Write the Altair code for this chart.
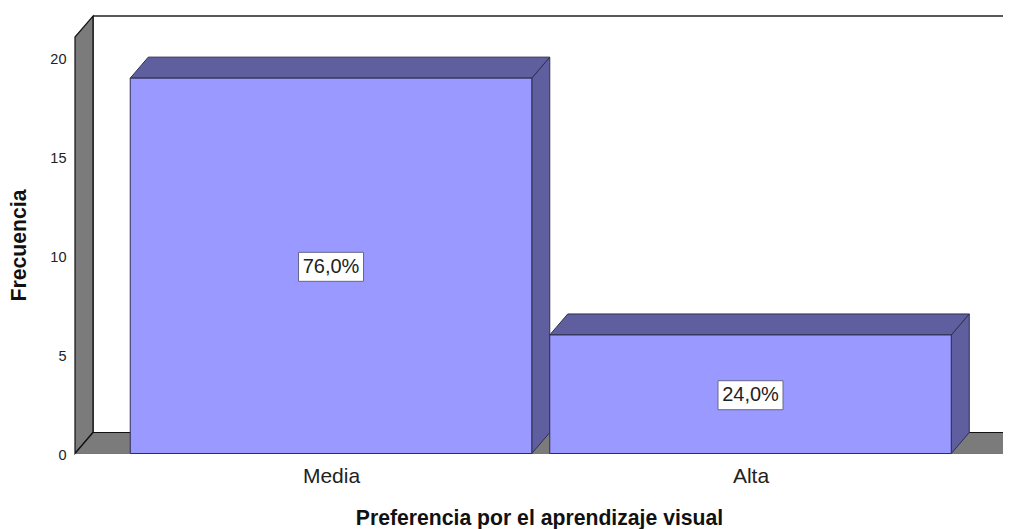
import altair as alt
import pandas as pd

categories = ["Media", "Alta"]
frequencies = [19, 6]
percent_labels = ["76,0%", "24,0%"]
y_ticks = [0, 5, 10, 15, 20]

# Scale set-up, in data units (category index / frequency)
X_MIN, X_MAX = -0.6103, 1.6019
Y_MAX = 22.55
DX, DY = 0.0429, 1.063      # depth of the 3-D projection
HALF = 0.4786               # half of a bar's width
WALL_TOP = 21.08
FLOOR_L, FLOOR_R = -0.6103, 1.6103

FILL = "#9999ff"
SHADE = "#5f5f9f"
GRAY = "#7b7b7b"
EDGE = "#2e2e50"
FONT = "Liberation Sans"

xs = alt.Scale(domain=[X_MIN, X_MAX], nice=False, zero=False, padding=0)
ys = alt.Scale(domain=[0, Y_MAX], nice=False, zero=False, padding=0)

label_expr = "[" + ",".join(f"'{c}'" for c in categories) + "][datum.value]"
x_axis = alt.Axis(values=[0, 1], labelExpr=label_expr, domain=False, ticks=False, grid=False,
                  labelFont=FONT, labelFontSize=21, labelColor="#222222", labelPadding=12,
                  title="Preferencia por el aprendizaje visual",
                  titleFont=FONT, titleFontSize=21.2, titleFontWeight="bold", titleColor="#111111",
                  titlePadding=21)
y_axis = alt.Axis(values=y_ticks, domain=False, ticks=False, grid=False,
                  labelFont=FONT, labelFontSize=14.5, labelColor="#222222", labelPadding=9,
                  labelOffset=1.5,
                  title="Frecuencia", titleY=237,
                  titleFont=FONT, titleFontSize=21.2, titleFontWeight="bold", titleColor="#111111",
                  titlePadding=20)
X = lambda f: alt.X(f, type="quantitative", scale=xs, axis=x_axis)
Y = lambda f: alt.Y(f, type="quantitative", scale=ys, axis=y_axis)

left_wall = pd.DataFrame({"x": [FLOOR_L, FLOOR_L + DX], "y": [0, DY],
                          "y2": [WALL_TOP, WALL_TOP + DY]})
floor = pd.DataFrame({"y": [0, DY], "x": [FLOOR_L, FLOOR_L + DX],
                      "x2": [FLOOR_R, FLOOR_R + DX]})
back_top = pd.DataFrame({"x": [FLOOR_L + DX], "x2": [X_MAX], "y": [WALL_TOP + DY]})
back_left = pd.DataFrame({"x": [FLOOR_L + DX], "y": [DY], "y2": [WALL_TOP + DY]})

fronts, tops, sides = [], [], []
for i, (c, v, p) in enumerate(zip(categories, frequencies, percent_labels)):
    l, r = i - HALF, i + HALF
    fronts.append({"c": c, "x": l, "x2": r, "y": 0, "y2": v, "i": i, "m": v / 2, "p": p})
    tops += [{"c": c, "y": v, "x": l, "x2": r},
             {"c": c, "y": v + DY, "x": l + DX, "x2": r + DX}]
    sides += [{"c": c, "x": r, "y": 0, "y2": v},
              {"c": c, "x": r + DX, "y": DY, "y2": v + DY}]
fronts, tops, sides = map(pd.DataFrame, (fronts, tops, sides))

line_top = alt.Chart(back_top).mark_rule(color="#222222", strokeWidth=1.5, clip=True).encode(
    x=X("x"), x2="x2", y=Y("y"))
line_left = alt.Chart(back_left).mark_rule(color="#222222", strokeWidth=1.5).encode(
    x=X("x"), y=Y("y"), y2="y2")
wall = alt.Chart(left_wall).mark_area(color=GRAY, stroke="#111111", strokeWidth=1.2,
                                      orient="vertical").encode(x=X("x"), y=Y("y"), y2="y2")
flr = alt.Chart(floor).mark_area(color=GRAY, stroke="#111111", strokeWidth=1.2,
                                 orient="horizontal", clip=True).encode(
    y=Y("y"), x=X("x"), x2="x2")
top_face = alt.Chart(tops).mark_area(color=SHADE, stroke=EDGE, strokeWidth=1,
                                     orient="horizontal").encode(
    y=Y("y"), x=X("x"), x2="x2", detail="c:N")
side_face = alt.Chart(sides).mark_area(color=SHADE, stroke=EDGE, strokeWidth=1,
                                       orient="vertical").encode(
    x=X("x"), y=Y("y"), y2="y2", detail="c:N")
front = alt.Chart(fronts).mark_rect(color=FILL, stroke=EDGE, strokeWidth=1).encode(
    x=X("x"), x2="x2", y=Y("y"), y2="y2")
box = alt.Chart(fronts).mark_rect(width=65, height=29, color="white", stroke="#666688",
                                  strokeWidth=1, yOffset=1).encode(x=X("i"), y=Y("m"))
label = alt.Chart(fronts).mark_text(font=FONT, fontSize=20, color="#222222", dy=1).encode(
    x=X("i"), y=Y("m"), text="p:N")

chart = alt.layer(line_top, line_left, wall, flr, side_face, top_face, front, box, label).properties(
    width=928, height=445.5,
    autosize=alt.AutoSizeParams(type="none"),
    padding={"left": 67, "top": 0, "right": 0, "bottom": 75},
).configure_view(stroke=None)

chart.save("out.html", embed_options={"renderer": "svg", "actions": False})
